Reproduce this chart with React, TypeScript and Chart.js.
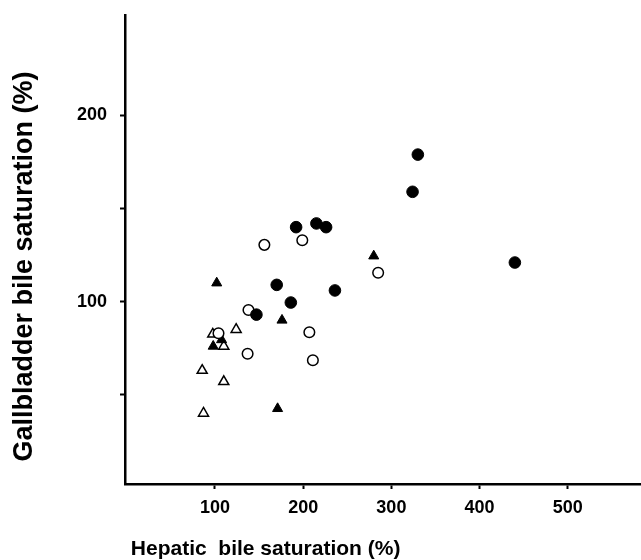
import React, { useEffect, useRef } from "react";
import { Chart, registerables } from "chart.js";

Chart.register(...registerables);

// Hepatic (x) vs gallbladder (y) bile saturation, %
const filledCircles = [
  { x: 147, y: 93 },
  { x: 170, y: 109 },
  { x: 186, y: 99.5 },
  { x: 192, y: 140 },
  { x: 215, y: 142 },
  { x: 226, y: 140 },
  { x: 236, y: 106 },
  { x: 324, y: 159 },
  { x: 330, y: 179 },
  { x: 440, y: 121 },
];
const openCircles = [
  { x: 104, y: 83 },
  { x: 137, y: 72 },
  { x: 138, y: 95.5 },
  { x: 156, y: 130.5 },
  { x: 199, y: 133 },
  { x: 207, y: 83.5 },
  { x: 211, y: 68.5 },
  { x: 285, y: 115.5 },
];
const filledTriangles = [
  { x: 102, y: 110 },
  { x: 107.5, y: 79.5 },
  { x: 98, y: 76 },
  { x: 176, y: 90 },
  { x: 171, y: 42.5 },
  { x: 280, y: 124.5 },
];
const openTriangles = [
  { x: 97.5, y: 82.5 },
  { x: 110, y: 76 },
  { x: 124, y: 85 },
  { x: 85.5, y: 63 },
  { x: 110, y: 57 },
  { x: 87, y: 40 },
];

const xTicks = [100, 200, 300, 400, 500];
const yTicks = [50, 100, 150, 200];
const yLabelled = [100, 200];

const xTitle = " Hepatic  bile saturation (%)";
const yTitle = "   Gallbladder bile saturation (%)";

export default function App() {
  const ref = useRef<HTMLCanvasElement | null>(null);

  useEffect(() => {
    const canvas = ref.current;
    if (!canvas) return;
    const tickFont = { family: "Liberation Sans", weight: "bold" as const, size: 18 };
    const chart = new Chart(canvas, {
      type: "scatter",
      data: {
        datasets: [
          {
            data: filledCircles,
            pointStyle: "circle",
            pointRadius: 5.8,
            backgroundColor: "#000",
            borderColor: "#000",
            borderWidth: 1,
          },
          {
            data: openCircles,
            pointStyle: "circle",
            pointRadius: 5.3,
            backgroundColor: "#fff",
            borderColor: "#000",
            borderWidth: 1.5,
          },
          {
            data: filledTriangles,
            pointStyle: "triangle",
            pointRadius: 5.8,
            backgroundColor: "#000",
            borderColor: "#000",
            borderWidth: 1,
          },
          {
            data: openTriangles,
            pointStyle: "triangle",
            pointRadius: 5.8,
            backgroundColor: "#fff",
            borderColor: "#000",
            borderWidth: 1.5,
          },
        ],
      },
      options: {
        responsive: false,
        animation: false,
        events: [],
        layout: { autoPadding: false, padding: { top: 15, left: 0, right: 0, bottom: 0 } },
        plugins: {
          legend: { display: false },
          tooltip: { enabled: false },
        },
        scales: {
          x: {
            type: "linear",
            min: -2,
            max: 583,
            afterFit: (s: any) => {
              s.height = 76;
              s.paddingLeft = 0;
              s.paddingRight = 0;
            },
            afterBuildTicks: (s: any) => {
              s.ticks = xTicks.map((v) => ({ value: v }));
            },
            border: { display: true, color: "#000", width: 2.5 },
            grid: {
              drawOnChartArea: false,
              drawTicks: true,
              tickLength: 5,
              tickWidth: 2,
              tickColor: "#000",
            },
            ticks: {
              color: "#000",
              font: tickFont,
              padding: 8,
              maxRotation: 0,
              autoSkip: false,
              callback: (v: any) => String(v),
            },
            title: {
              display: true,
              text: xTitle,
              align: "start",
              color: "#000",
              font: { family: "Liberation Sans", weight: "bold", size: 21, lineHeight: 1 },
              padding: { top: 0, bottom: 0 },
            },
          },
          y: {
            type: "linear",
            min: 2,
            max: 254,
            afterFit: (s: any) => {
              s.width = 125;
              s.paddingTop = 0;
              s.paddingBottom = 0;
            },
            afterBuildTicks: (s: any) => {
              s.ticks = yTicks.map((v) => ({ value: v }));
            },
            border: { display: true, color: "#000", width: 2.5 },
            grid: {
              drawOnChartArea: false,
              drawTicks: true,
              tickLength: 5,
              tickWidth: 2,
              tickColor: "#000",
            },
            ticks: {
              color: "#000",
              font: tickFont,
              padding: 13,
              autoSkip: false,
              callback: (v: any) => (yLabelled.includes(Number(v)) ? String(v) : ""),
            },
            title: {
              display: true,
              text: yTitle,
              align: "start",
              color: "#000",
              font: { family: "Liberation Sans", weight: "bold", size: 27 },
              padding: { top: 8, bottom: 0 },
            },
          },
        },
      },
    });
    return () => chart.destroy();
  }, []);

  return (
    <div style={{ position: "fixed", left: 0, top: 0, width: 641, height: 560, background: "#fff" }}>
      <canvas ref={ref} width={641} height={560} style={{ display: "block" }} />
    </div>
  );
}
